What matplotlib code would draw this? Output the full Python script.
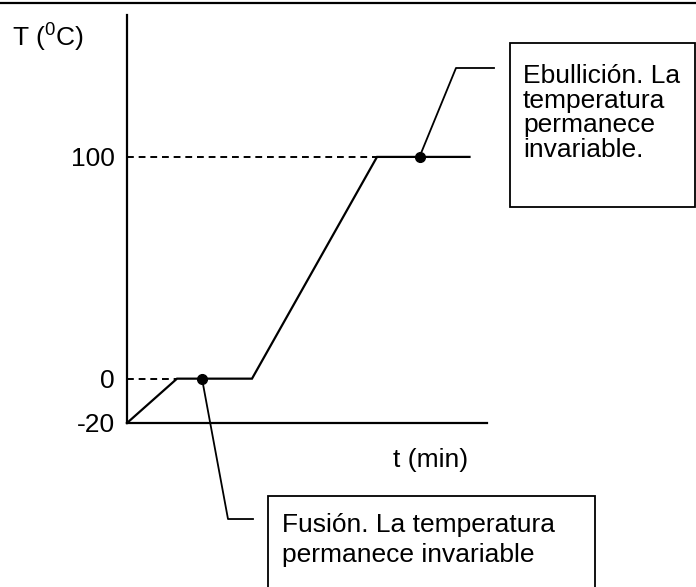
import matplotlib
matplotlib.use("Agg")
import matplotlib.pyplot as plt
from matplotlib.patches import Rectangle
from matplotlib.lines import Line2D

plt.rcParams["font.family"] = ["Liberation Sans", "DejaVu Sans"]
plt.rcParams["mathtext.fontset"] = "custom"
plt.rcParams["mathtext.rm"] = "Liberation Sans"

# ─────────────────────────────────────────
# DATA (heating curve of water, schematic)
# ─────────────────────────────────────────
time_min = [0, 2, 5, 10, 13.7]
temp_c = [-20, 0, 0, 100, 100]
ytick_vals = [-20, 0, 100]
ytick_labels = ["-20", "0", "100"]

dot_t = [3, 11.7]
dot_T = [0, 100]

fusion_text = ["Fusión. La temperatura", "permanece invariable"]
ebull_text = ["Ebullición. La", "temperatura", "permanece", "invariable."]

# ─────────────────────────────────────────
# FIGURE
# ─────────────────────────────────────────
W, H = 696, 587
fig = plt.figure(figsize=(W / 100, H / 100), dpi=100)
fig.patch.set_facecolor("white")


def px(x, y):
    # top-left pixel -> figure fraction
    return x / W, 1 - y / H


ax = fig.add_axes([127 / W, 1 - 423 / H, (487 - 127) / W, (423 - 15) / H])
ax.set_xlim(0, 14.4)
ax.set_ylim(-20, 164)

ax.plot(time_min, temp_c, color="black", lw=1.6, solid_joinstyle="miter",
        clip_on=False)
ax.plot([0, time_min[1]], [temp_c[1], temp_c[1]], color="black", lw=1.4,
        dashes=(3.5, 2.5))
ax.plot([0, time_min[3]], [temp_c[3], temp_c[3]], color="black", lw=1.4,
        dashes=(3.5, 2.5))
ax.plot(dot_t, dot_T, "o", color="black", ms=7, clip_on=False, zorder=5)

# leader lines to the boxes
ax.plot([dot_t[0], 4.04, 5.04], [dot_T[0], -63.3, -63.3], color="black",
        lw=1.3, clip_on=False)
ax.plot([dot_t[1], 13.16, 14.68], [dot_T[1], 140.1, 140.1], color="black",
        lw=1.3, clip_on=False)

for s in ["top", "right"]:
    ax.spines[s].set_visible(False)
for s in ["left", "bottom"]:
    ax.spines[s].set_linewidth(1.6)
ax.set_xticks([])
ax.set_yticks(ytick_vals)
ax.set_yticklabels(ytick_labels, fontsize=19)
ax.tick_params(axis="y", length=0, pad=9)

# axis titles
fig.text(*px(12, 47), r"T ($\mathregular{^0}$C)", fontsize=19,
         ha="left", va="baseline")
fig.text(*px(393, 467), "t (min)", fontsize=19, ha="left", va="baseline")

# boxes
fig.add_artist(Rectangle(px(268, 600), (595 - 268) / W, (600 - 496) / H,
                         transform=fig.transFigure, fill=False,
                         edgecolor="black", lw=1.3))
fig.add_artist(Rectangle(px(510, 207), (695 - 510) / W, (207 - 43) / H,
                         transform=fig.transFigure, fill=False,
                         edgecolor="black", lw=1.3))

for i, line in enumerate(fusion_text):
    fig.text(*px(282, 532 + 30 * i), line, fontsize=19, ha="left",
             va="baseline")
for i, line in enumerate(ebull_text):
    fig.text(*px(523, 83 + 24.7 * i), line, fontsize=19, ha="left",
             va="baseline")

# top frame line
fig.add_artist(Line2D([0, 1], [1 - 2.5 / H, 1 - 2.5 / H],
                      transform=fig.transFigure, color="black", lw=1.6))

plt.savefig("out.png", dpi=100, facecolor="white")
